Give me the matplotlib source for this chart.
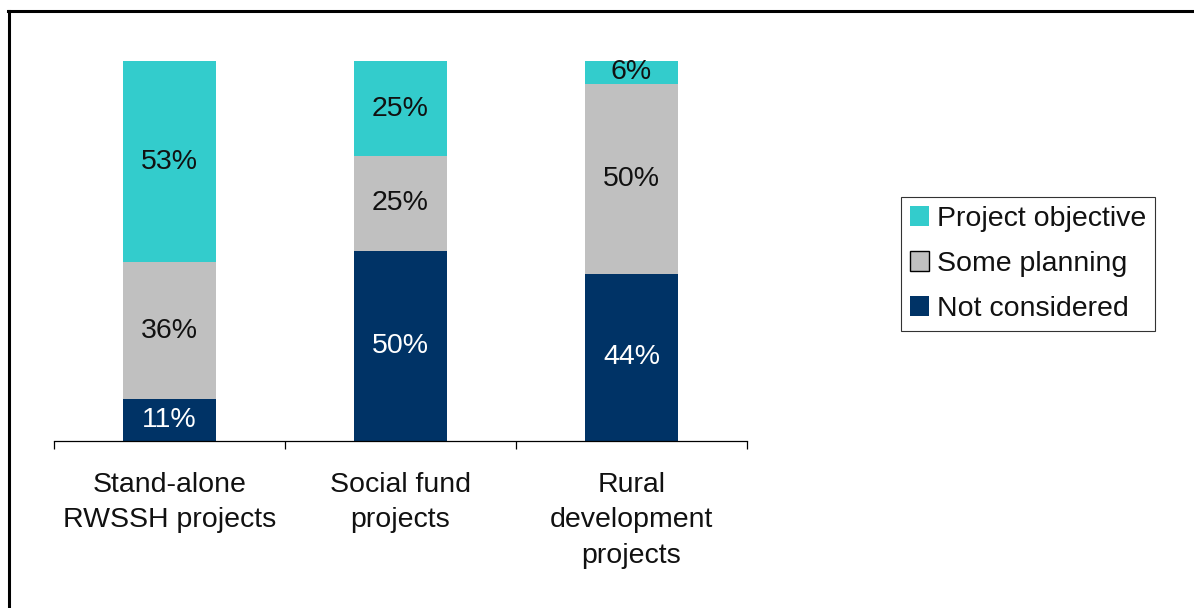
import matplotlib
matplotlib.use("Agg")
import matplotlib.pyplot as plt
from matplotlib.patches import Patch
from matplotlib.lines import Line2D
import numpy as np

plt.rcParams['font.family'] = ['Liberation Sans', 'DejaVu Sans']

categories = ["Stand-alone\nRWSSH projects", "Social fund\nprojects", "Rural\ndevelopment\nprojects"]
not_considered = [11, 50, 44]
some_planning = [36, 25, 50]
project_objective = [53, 25, 6]

series_names = ["Not considered", "Some planning", "Project objective"]
colors = ["#003366", "#C0C0C0", "#33CCCC"]
text_colors = ["white", "#111111", "#111111"]

FS = 20.5
W, H = 1194, 608
fig = plt.figure(figsize=(W / 100, H / 100), dpi=100)
ax = fig.add_axes([54 / W, (H - 441) / H, (747 - 54) / W, (441 - 61) / H])

x = np.arange(len(categories))
bottom = np.zeros(len(categories))
for vals, name, col, tc in zip([not_considered, some_planning, project_objective], series_names, colors, text_colors):
    vals = np.array(vals, dtype=float)
    ax.bar(x, vals, width=0.405, bottom=bottom, color=col, edgecolor='none')
    for xi, b, v in zip(x, bottom, vals):
        ax.text(xi, b + v / 2, f"{int(v)}%", ha='center', va='center', fontsize=FS, color=tc)
    bottom += vals

ax.set_xlim(-0.5, 2.5)
ax.set_ylim(0, 100)
for s in ['top', 'right', 'left']:
    ax.spines[s].set_visible(False)
ax.spines['bottom'].set_linewidth(0.9)
ax.set_yticks([])
ax.set_xticks(x)
ax.set_xticklabels(categories, fontsize=FS, linespacing=1.48, color='#111111')
ax.tick_params(axis='x', which='major', length=0, pad=22)
ax.set_xticks([-0.5, 0.5, 1.5, 2.5], minor=True)
ax.tick_params(axis='x', which='minor', length=6, width=0.9, direction='out')

leg_handles = [
    Patch(facecolor="#33CCCC", edgecolor='none', label="Project objective"),
    Patch(facecolor="#C0C0C0", edgecolor='black', linewidth=1.0, label="Some planning"),
    Patch(facecolor="#003366", edgecolor='none', label="Not considered"),
]
leg = fig.legend(handles=leg_handles, loc='center', bbox_to_anchor=(1028 / W, 1 - 264 / H),
                 frameon=True, fancybox=False, fontsize=FS, handlelength=0.66, handleheight=0.66,
                 handletextpad=0.3, labelspacing=0.67, borderpad=0.3, borderaxespad=0)
for t in leg.get_texts():
    t.set_color('#111111')
leg.get_frame().set_edgecolor('black')
leg.get_frame().set_linewidth(0.8)

# outer frame (left and top edges visible)
fig.add_artist(Line2D([9 / W, 9 / W], [0, 1 - 11 / H], transform=fig.transFigure, color='black', linewidth=2.2))
fig.add_artist(Line2D([8 / W, 1], [1 - 11 / H, 1 - 11 / H], transform=fig.transFigure, color='black', linewidth=2.2))

fig.savefig("out.png", dpi=100)
